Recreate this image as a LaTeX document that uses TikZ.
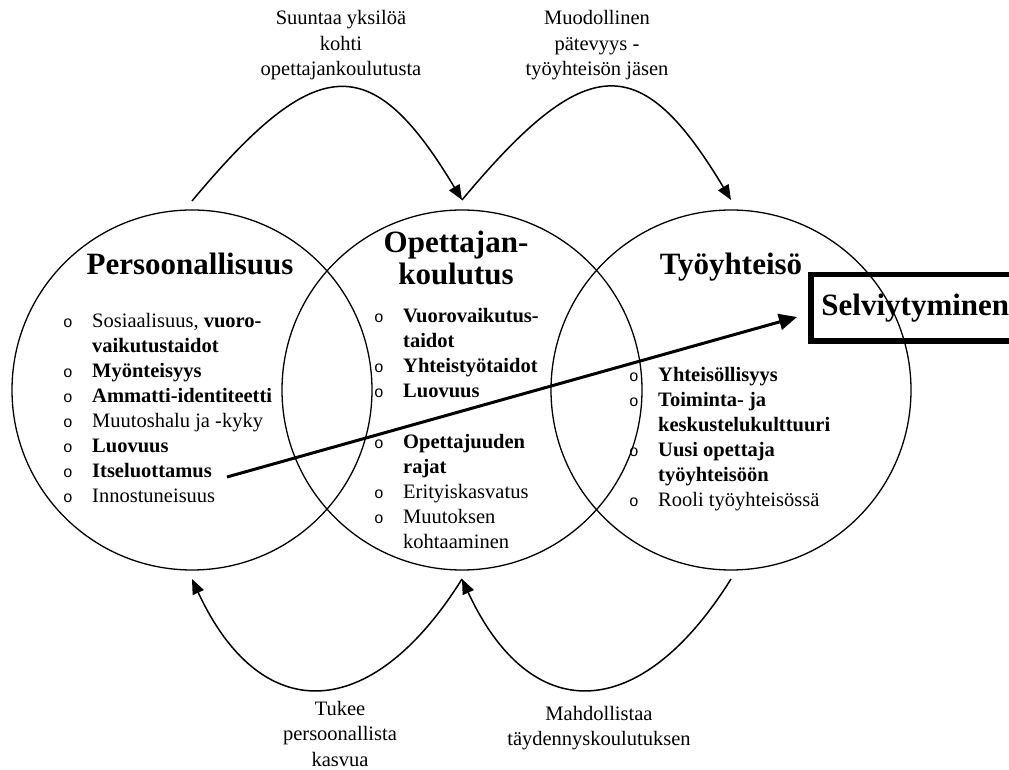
\documentclass[tikz,border=0pt]{standalone}
\usepackage{fontspec}
\setmainfont{Liberation Serif}
\newfontfamily\bulletfont{Liberation Mono}
\usetikzlibrary{arrows.meta}
% list bullet and indentation for continuation lines
\newcommand{\bl}{\makebox[29pt][l]{\bulletfont\fontsize{16}{16}\selectfont o}}
\newcommand{\nb}{\hspace*{29pt}}
\begin{document}
\begin{tikzpicture}[x=1pt,y=1pt,
  ring/.style={circle, draw, line width=1.3pt, minimum size=360pt, inner sep=0pt, outer sep=0pt},
  flow/.style={line width=1.5pt, -{Triangle[length=15pt,width=12pt]}},
  caption/.style={inner sep=0pt, anchor=base, font=\fontsize{20.5}{25.5}\selectfont},
  heading/.style={inner sep=0pt, anchor=base, font=\bfseries\fontsize{31}{32}\selectfont},
  itemlist/.style={inner sep=0pt, anchor=base west, font=\fontsize{20.5}{25}\selectfont},
  goalbox/.style={draw, line width=5.5pt, minimum width=209pt, minimum height=66.5pt,
    inner sep=0pt, font=\bfseries\fontsize{31}{32}\selectfont},
  mainarrow/.style={line width=3pt, -{Triangle[length=18pt,width=16pt]}},
]
\useasboundingbox (0,0) rectangle (1009,769);

% the three overlapping circles
\node[ring] (pers) at (192,379) {};
\node[ring] (opet) at (462,379) {};
\node[ring] (tyo)  at (731,379) {};

% headings
\node[heading] (hpers) at (190,494) {Persoonallisuus};
\node[heading] (hopet) at (456,516) {\begin{tabular}[t]{@{}c@{}}Opettajan-\\koulutus\end{tabular}};
\node[heading] (htyo)  at (731,494) {Työyhteisö};

% item lists
\node[itemlist] (lpers) at (63,441) {\begin{tabular}[t]{@{}l@{}}
\bl Sosiaalisuus, \textbf{vuoro-}\\
\nb\textbf{vaikutustaidot}\\
\bl\textbf{Myönteisyys}\\
\bl\textbf{Ammatti-identiteetti}\\
\bl Muutoshalu ja -kyky\\
\bl\textbf{Luovuus}\\
\bl\textbf{Itseluottamus}\\
\bl Innostuneisuus
\end{tabular}};

\node[itemlist] (lopet) at (374,446) {\begin{tabular}[t]{@{}l@{}}
\bl\textbf{Vuorovaikutus-}\\
\nb\textbf{taidot}\\
\bl\textbf{Yhteistyötaidot}\\
\bl\textbf{Luovuus}\\
\\[1pt]
\bl\textbf{Opettajuuden}\\
\nb\textbf{rajat}\\
\bl Erityiskasvatus\\
\bl Muutoksen\\
\nb kohtaaminen
\end{tabular}};

\node[itemlist] (ltyo) at (629,387) {\begin{tabular}[t]{@{}l@{}}
\bl\textbf{Yhteisöllisyys}\\
\bl\textbf{Toiminta- ja}\\
\nb\textbf{keskustelukulttuuri}\\
\bl\textbf{Uusi opettaja}\\
\nb\textbf{työyhteisöön}\\
\bl Rooli työyhteisössä
\end{tabular}};

% outcome box, running past the right edge of the page
\node[goalbox] (selv) at (915.3,461) {\raisebox{-3pt}{Selviytyminen}};

% main arrow from self-confidence to coping
\coordinate (selfconf) at (227,292);
\coordinate (aim) at (797,452);
\draw[mainarrow] (selfconf) -- (aim);

% arc end points above and below the circles
\coordinate (pt) at ([yshift=9pt]pers.north);
\coordinate (ot) at ([yshift=10pt]opet.north);
\coordinate (tt) at ([yshift=10pt]tyo.north);
\coordinate (pb) at ([yshift=-9pt]pers.south);
\coordinate (ob) at ([yshift=-9pt]opet.south);
\coordinate (tb) at ([yshift=-9pt]tyo.south);

\draw[flow] (pt) .. controls +(125,150) and +(-90,150) .. (ot);
\draw[flow] (ot) .. controls +(125,150) and +(-90,150) .. (tt);
\draw[flow] (ob) .. controls +(-92,-147) and +(68,-147) .. (pb);
\draw[flow] (tb) .. controls +(-92,-147) and +(68,-147) .. (ob);

% arc captions
\node[caption] (ctop1) at (341,744) {\begin{tabular}[t]{@{}c@{}}Suuntaa yksilöä\\kohti\\opettajankoulutusta\end{tabular}};
\node[caption] (ctop2) at (597,744) {\begin{tabular}[t]{@{}c@{}}Muodollinen\\pätevyys -\\työyhteisön jäsen\end{tabular}};
\node[caption] (cbot1) at (340,54) {\begin{tabular}[t]{@{}c@{}}Tukee\\persoonallista\\kasvua\end{tabular}};
\node[caption] (cbot2) at (599,49) {\begin{tabular}[t]{@{}c@{}}Mahdollistaa\\täydennyskoulutuksen\end{tabular}};
\end{tikzpicture}
\end{document}
